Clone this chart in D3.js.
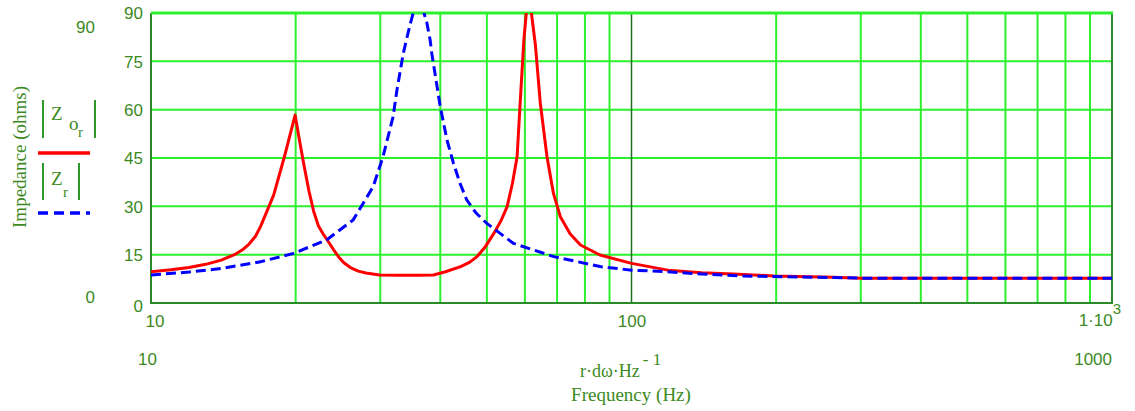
<!DOCTYPE html>
<html>
<head>
<meta charset="utf-8">
<script src="https://cdn.jsdelivr.net/npm/d3@7"></script>
<style>
  body { margin: 0; background: #fff; }
  svg { display: block; }
</style>
</head>
<body>
<svg id="chart"></svg>
<script>
// |Z o_r| (red, solid)
const freqOr = [10, 11, 12, 13, 14, 15, 15.5, 16, 16.5, 16.9, 18, 19, 19.95, 20.4, 20.8, 21.3, 21.8, 22.3, 22.8, 23.4, 24, 24.6, 25.2, 26, 27, 28, 29.9, 33, 36, 38.7, 41, 44.1, 46, 47.7, 49.5, 51.7, 53.5, 55.1, 56.5, 57.8, 58.7, 59.7, 60.4, 61, 61.9, 63.1, 64.6, 66.7, 68.8, 71.1, 74.5, 78.3, 86, 100, 119, 140, 163, 198, 264, 300, 1000];
const zOr = [9.7, 10.3, 11, 12, 13.3, 15.2, 16.5, 18.3, 20.7, 23.7, 33.5, 46, 58.3, 50, 43, 35, 28.5, 24, 21.5, 19, 16.5, 14.2, 12.5, 11, 9.9, 9.3, 8.7, 8.6, 8.6, 8.7, 9.7, 11.3, 12.6, 14.4, 17.2, 21.6, 25.5, 29.9, 37, 45.4, 63, 81.6, 90, 96, 90, 80, 62, 45.4, 34, 26.8, 21.5, 18, 14.9, 12.3, 10.2, 9.4, 9.0, 8.4, 8.0, 7.7, 7.7];

// |Z r| (blue, dashed)
const freqR = [10, 12, 14, 16.9, 19.8, 23.2, 26.35, 29, 30.4, 31.9, 32.5, 33.5, 34.2, 34.7, 36, 37.5, 38.1, 38.4, 40, 41.3, 42.6, 43.95, 45.4, 47.5, 50, 56.8, 68.9, 86, 100, 118.7, 140, 169, 264, 300, 1000];
const zR = [8.7, 9.6, 10.7, 12.8, 15.4, 19.6, 25.8, 36.1, 45.4, 57.8, 66.1, 77.5, 83.2, 87, 96, 87, 81.6, 77.5, 60.9, 50.6, 43.4, 37.2, 32.0, 27.9, 24.7, 18.5, 14.4, 11.3, 10.2, 9.7, 9.0, 8.4, 7.9, 7.7, 7.7];

const yTicks = [0, 15, 30, 45, 60, 75, 90];
const xTickLabels = ["10", "100"];

const W = 1135, H = 411;
const plot = {left: 151, right: 1112, top: 13, bottom: 303};
const txtColor = "#3c8a1e";
const gridColor = "#2df02d";
const frameColor = "#2a8a2a";
const sans = "'Liberation Sans', Arial, sans-serif";
const serif = "'Liberation Serif', 'Times New Roman', serif";

let svg = d3.select("#chart").attr("width", W).attr("height", H);

let x = d3.scaleLog().domain([10, 1000]).range([plot.left, plot.right]);
let y = d3.scaleLinear().domain([0, 90]).range([plot.bottom, plot.top]);

svg.append("defs").append("clipPath").attr("id", "clip")
  .append("rect")
  .attr("x", plot.left).attr("y", plot.top)
  .attr("width", plot.right - plot.left).attr("height", plot.bottom - plot.top);

// grid
let grid = svg.append("g");
let minor = x.ticks().filter(d => d !== 10 && d !== 100 && d !== 1000);
grid.selectAll(".vx").data(minor).enter().append("line")
  .attr("x1", d => x(d)).attr("x2", d => x(d))
  .attr("y1", plot.top).attr("y2", plot.bottom)
  .attr("stroke", gridColor).attr("stroke-width", 2);
grid.selectAll(".hy").data(yTicks.filter(d => d > 0 && d < 90)).enter().append("line")
  .attr("x1", plot.left).attr("x2", plot.right)
  .attr("y1", d => y(d)).attr("y2", d => y(d))
  .attr("stroke", gridColor).attr("stroke-width", 2);
// decade line
grid.append("line")
  .attr("x1", x(100)).attr("x2", x(100))
  .attr("y1", plot.top).attr("y2", plot.bottom)
  .attr("stroke", "#1f6e1f").attr("stroke-width", 1.5);

// frame
svg.append("path")
  .attr("d", `M${plot.left},${plot.top}V${plot.bottom}H${plot.right}V${plot.top}`)
  .attr("fill", "none").attr("stroke", frameColor).attr("stroke-width", 2);
svg.append("line")
  .attr("x1", plot.left).attr("x2", plot.right + 1)
  .attr("y1", y(90)).attr("y2", y(90))
  .attr("stroke", gridColor).attr("stroke-width", 3);

// curves
let line = d3.line().x(d => x(d[0])).y(d => y(d[1]));
let curves = svg.append("g").attr("clip-path", "url(#clip)");
curves.append("path")
  .datum(d3.zip(freqOr, zOr))
  .attr("d", line)
  .attr("fill", "none").attr("stroke", "#ff0000").attr("stroke-width", 3)
  .attr("stroke-linejoin", "round");
curves.append("path")
  .datum(d3.zip(freqR, zR))
  .attr("d", line)
  .attr("fill", "none").attr("stroke", "#0000ff").attr("stroke-width", 3)
  .attr("stroke-dasharray", "10,5");

// y axis labels
let yAxis = svg.append("g")
  .attr("transform", `translate(${plot.left - 8},0)`)
  .call(d3.axisLeft(y).tickValues(yTicks).tickSize(0).tickPadding(0));
yAxis.select(".domain").remove();
yAxis.selectAll("text")
  .attr("fill", txtColor).attr("font-family", sans).attr("font-size", 17)
  .attr("dy", "0.35em");
yAxis.selectAll(".tick").filter(d => d === 0).select("text").attr("dy", "0.5em");

// x axis labels
let xAxis = svg.append("g")
  .attr("transform", `translate(0,${plot.bottom + 8})`)
  .call(d3.axisBottom(x).tickValues([10, 100]).tickFormat((d, i) => xTickLabels[i]).tickSize(0).tickPadding(0));
xAxis.select(".domain").remove();
xAxis.selectAll("text")
  .attr("fill", txtColor).attr("font-family", sans).attr("font-size", 17)
  .attr("dy", "0.95em");
xAxis.selectAll(".tick").filter(d => d === 10).select("text").attr("text-anchor", "start").attr("dx", -6);

let thou = svg.append("text")
  .attr("x", x(1000) + 9).attr("y", 326)
  .attr("text-anchor", "end")
  .attr("fill", txtColor).attr("font-family", sans).attr("font-size", 17);
thou.append("tspan").text("1\u00b710");
thou.append("tspan").attr("dy", -12).attr("font-size", 15).text("3");

// range limits
function label(t, px, py, anchor, font, size) {
  return svg.append("text").attr("x", px).attr("y", py)
    .attr("text-anchor", anchor || "start")
    .attr("fill", txtColor).attr("font-family", font || sans)
    .attr("font-size", size || 17).text(t);
}
label("90", 95, 33, "end");
label("0", 95, 303, "end");
label("10", 138, 365);
label("1000", 1112, 365, "end");

// x title
let rd = svg.append("text").attr("x", 580).attr("y", 377)
  .attr("fill", txtColor).attr("font-family", serif).attr("font-size", 18);
rd.append("tspan").text("r\u00b7d\u03c9\u00b7Hz");
rd.append("tspan").attr("dy", -12).attr("dx", 3).attr("font-size", 17).text("- 1");
label("Frequency (Hz)", 631, 401, "middle", serif, 19);

// y title
svg.append("text")
  .attr("transform", "translate(26,157) rotate(-90)")
  .attr("text-anchor", "middle")
  .attr("fill", txtColor).attr("font-family", serif).attr("font-size", 19)
  .text("Impedance (ohms)");

// legend
let leg = svg.append("g");
function bar(px, y1, y2) {
  leg.append("line").attr("x1", px).attr("x2", px).attr("y1", y1).attr("y2", y2)
    .attr("stroke", "#2e9a2e").attr("stroke-width", 2);
}
bar(43, 100, 138); bar(95, 100, 138);
let z1 = leg.append("text").attr("x", 51).attr("y", 120)
  .attr("fill", txtColor).attr("font-family", serif).attr("font-size", 19);
z1.append("tspan").text("Z");
z1.append("tspan").attr("x", 69).attr("y", 130).text("o");
z1.append("tspan").attr("x", 78).attr("y", 137).attr("font-size", 15).text("r");
leg.append("line").attr("x1", 38).attr("x2", 90).attr("y1", 153).attr("y2", 153)
  .attr("stroke", "#ff0000").attr("stroke-width", 3.5);

bar(43, 163, 200); bar(79, 163, 200);
let z2 = leg.append("text").attr("x", 51).attr("y", 185)
  .attr("fill", txtColor).attr("font-family", serif).attr("font-size", 19);
z2.append("tspan").text("Z");
z2.append("tspan").attr("x", 63).attr("y", 197).attr("font-size", 15).text("r");
leg.append("line").attr("x1", 38).attr("x2", 90).attr("y1", 213).attr("y2", 213)
  .attr("stroke", "#0000ff").attr("stroke-width", 3.5)
  .attr("stroke-dasharray", "10,6");
</script>
</body>
</html>
